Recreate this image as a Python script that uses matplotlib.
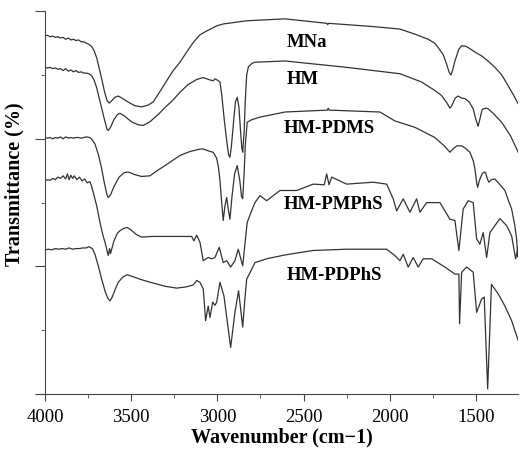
import numpy as np
import matplotlib.pyplot as plt
from matplotlib.ticker import MultipleLocator

plt.rcParams['font.family'] = ['Liberation Serif', 'DejaVu Serif']

# spectra (wavenumber, offset transmittance)
wn_mna = [4000, 3985, 3970, 3955, 3940, 3925, 3910, 3895, 3880, 3865, 3850, 3835,
          3820, 3805, 3790, 3775, 3760, 3745, 3730, 3715, 3700, 3685, 3670, 3655,
          3640, 3628, 3615, 3595, 3575, 3555, 3520, 3480, 3440, 3400, 3372, 3333,
          3294, 3256, 3217, 3178, 3140, 3101, 3062, 3004, 2966, 2830, 2608, 2365,
          2360, 2355, 2100, 1941, 1854, 1777, 1740, 1719, 1690, 1670, 1655, 1645,
          1635, 1622, 1612, 1600, 1583, 1560, 1545, 1500, 1467, 1430, 1390, 1350,
          1313, 1285, 1255]
t_mna = [5.62, 5.62, 5.60, 5.61, 5.59, 5.60, 5.58, 5.59, 5.56, 5.58, 5.55, 5.56,
         5.54, 5.55, 5.52, 5.52, 5.50, 5.48, 5.45, 5.38, 5.27, 5.10, 4.93, 4.74,
         4.60, 4.56, 4.59, 4.65, 4.67, 4.64, 4.58, 4.52, 4.50, 4.53, 4.58, 4.74,
         4.91, 5.07, 5.20, 5.36, 5.51, 5.63, 5.69, 5.77, 5.80, 5.85, 5.88, 5.81,
         5.79, 5.81, 5.76, 5.72, 5.64, 5.56, 5.50, 5.43, 5.32, 5.17, 5.04, 5.00,
         5.08, 5.22, 5.30, 5.40, 5.46, 5.45, 5.43, 5.35, 5.30, 5.22, 5.12, 5.00,
         4.83, 4.70, 4.55]

wn_hm = [4000, 3985, 3970, 3955, 3940, 3925, 3910, 3895, 3880, 3865, 3850, 3835,
         3820, 3805, 3790, 3775, 3760, 3745, 3730, 3715, 3700, 3685, 3671, 3655,
         3640, 3633, 3620, 3600, 3580, 3565, 3540, 3500, 3460, 3430, 3390, 3340,
         3304, 3260, 3217, 3170, 3120, 3082, 3040, 3024, 3014, 3000, 2985, 2975,
         2960, 2945, 2935, 2927, 2918, 2905, 2895, 2885, 2875, 2865, 2858, 2853,
         2845, 2838, 2830, 2820, 2800, 2782, 2608, 2250, 1941, 1815, 1740, 1700,
         1670, 1651, 1640, 1620, 1603, 1585, 1564, 1540, 1516, 1500, 1490, 1487,
         1478, 1465, 1458, 1440, 1429, 1400, 1351, 1300, 1255]
t_hm = [5.12, 5.11, 5.12, 5.10, 5.11, 5.09, 5.10, 5.07, 5.10, 5.06, 5.08, 5.05,
        5.07, 5.04, 5.05, 5.03, 5.03, 5.02, 4.99, 4.92, 4.80, 4.63, 4.48, 4.30,
        4.15, 4.13, 4.18, 4.30, 4.38, 4.40, 4.36, 4.27, 4.22, 4.21, 4.27, 4.39,
        4.49, 4.60, 4.73, 4.85, 4.93, 4.96, 4.92, 4.91, 4.94, 4.92, 4.89, 4.70,
        4.30, 3.95, 3.75, 3.71, 3.90, 4.30, 4.58, 4.65, 4.50, 4.10, 3.85, 3.79,
        4.10, 4.60, 5.00, 5.13, 5.18, 5.20, 5.22, 5.12, 5.02, 4.89, 4.76, 4.68,
        4.57, 4.48, 4.52, 4.64, 4.67, 4.64, 4.63, 4.58, 4.47, 4.30, 4.22, 4.20,
        4.30, 4.45, 4.47, 4.48, 4.47, 4.40, 4.26, 4.05, 3.79]

wn_pdms = [4000, 3985, 3970, 3955, 3940, 3925, 3910, 3895, 3880, 3865, 3850, 3835,
           3820, 3805, 3790, 3775, 3760, 3740, 3725, 3710, 3690, 3671, 3655, 3640,
           3633, 3620, 3600, 3570, 3540, 3517, 3480, 3440, 3391, 3350, 3304, 3260,
           3217, 3160, 3100, 3082, 3040, 3024, 3005, 2995, 2985, 2975, 2966, 2956,
           2946, 2937, 2927, 2915, 2900, 2885, 2870, 2860, 2853, 2845, 2838, 2827,
           2800, 2753, 2608, 2362, 2357, 2352, 2057, 1970, 1854, 1738, 1680, 1651,
           1630, 1610, 1583, 1560, 1535, 1515, 1506, 1495, 1490, 1480, 1464, 1452,
           1444, 1435, 1425, 1410, 1390, 1360, 1332, 1310, 1293, 1275, 1264, 1258]
t_pdms = [4.02, 4.01, 4.02, 4.00, 4.02, 4.01, 4.03, 4.00, 4.03, 4.01, 4.02, 4.01,
          4.02, 4.02, 4.01, 4.02, 4.03, 4.02, 3.98, 3.92, 3.75, 3.53, 3.30, 3.12,
          3.08, 3.12, 3.25, 3.40, 3.47, 3.48, 3.44, 3.41, 3.42, 3.50, 3.58, 3.66,
          3.74, 3.80, 3.84, 3.84, 3.80, 3.79, 3.70, 3.58, 3.35, 3.00, 2.72, 2.95,
          3.08, 2.90, 2.74, 3.10, 3.45, 3.58, 3.35, 3.10, 3.06, 3.45, 3.90, 4.26,
          4.30, 4.34, 4.42, 4.45, 4.48, 4.45, 4.42, 4.28, 4.18, 4.02, 3.88, 3.79,
          3.85, 3.89, 3.89, 3.85, 3.79, 3.65, 3.53, 3.30, 3.24, 3.35, 3.45, 3.48,
          3.47, 3.38, 3.32, 3.36, 3.37, 3.28, 3.19, 3.02, 2.90, 2.65, 2.43, 2.15]

wn_pmphs = [4000, 3985, 3970, 3955, 3940, 3925, 3910, 3895, 3880, 3870, 3860, 3850,
            3840, 3830, 3815, 3800, 3785, 3770, 3755, 3740, 3730, 3720, 3700, 3681,
            3665, 3652, 3640, 3633, 3625, 3620, 3613, 3600, 3580, 3565, 3540, 3523,
            3500, 3470, 3439, 3380, 3304, 3149, 3136, 3120, 3101, 3082, 3053, 3033,
            3014, 2989, 2966, 2946, 2923, 2898, 2879, 2853, 2827, 2800, 2782, 2753,
            2714, 2666, 2637, 2540, 2444, 2380, 2366, 2352, 2337, 2250, 2096, 2018,
            1980, 1960, 1922, 1883, 1844, 1825, 1786, 1709, 1651, 1622, 1599, 1574,
            1545, 1516, 1496, 1477, 1458, 1438, 1419, 1390, 1361, 1322, 1293, 1270,
            1251]
t_pmphs = [3.34, 3.36, 3.35, 3.38, 3.36, 3.40, 3.38, 3.42, 3.37, 3.45, 3.36, 3.43,
           3.38, 3.42, 3.36, 3.40, 3.34, 3.37, 3.31, 3.33, 3.26, 3.16, 2.95, 2.69,
           2.50, 2.38, 2.25, 2.17, 2.28, 2.20, 2.27, 2.40, 2.52, 2.56, 2.60, 2.61,
           2.57, 2.50, 2.46, 2.47, 2.47, 2.47, 2.40, 2.49, 2.38, 2.09, 2.14, 2.12,
           2.14, 2.30, 2.06, 2.09, 1.99, 2.09, 2.27, 2.01, 2.69, 2.88, 3.00, 3.11,
           3.03, 3.13, 3.19, 3.19, 3.29, 3.28, 3.45, 3.28, 3.40, 3.29, 3.32, 3.29,
           3.06, 2.87, 3.06, 2.85, 3.06, 2.85, 3.00, 3.00, 2.74, 2.72, 2.25, 2.90,
           3.03, 3.00, 2.43, 2.35, 2.53, 2.14, 2.53, 2.64, 2.75, 2.64, 2.48, 2.12,
           2.35]

wn_pdphs = [4000, 3980, 3960, 3940, 3920, 3900, 3880, 3860, 3840, 3820, 3800, 3780,
            3760, 3745, 3739, 3725, 3710, 3690, 3671, 3650, 3635, 3623, 3610, 3590,
            3575, 3550, 3523, 3490, 3449, 3400, 3304, 3236, 3180, 3140, 3120, 3101,
            3082, 3068, 3053, 3043, 3027, 3014, 3004, 2985, 2962, 2923, 2898, 2877,
            2853, 2840, 2830, 2800, 2782, 2714, 2608, 2444, 2250, 2018, 1970, 1941,
            1922, 1893, 1864, 1835, 1806, 1757, 1680, 1622, 1599, 1595, 1583, 1554,
            1516, 1496, 1467, 1452, 1432, 1410, 1371, 1332, 1293, 1255]
t_pdphs = [2.26, 2.27, 2.26, 2.28, 2.27, 2.28, 2.27, 2.29, 2.27, 2.28, 2.28, 2.29,
           2.29, 2.31, 2.30, 2.28, 2.19, 2.00, 1.80, 1.60, 1.50, 1.46, 1.52, 1.66,
           1.75, 1.83, 1.87, 1.84, 1.80, 1.76, 1.69, 1.66, 1.68, 1.71, 1.78, 1.75,
           1.65, 1.15, 1.38, 1.20, 1.44, 1.39, 1.44, 1.75, 1.54, 0.73, 1.28, 1.62,
           1.05, 1.50, 1.80, 1.96, 2.06, 2.12, 2.18, 2.25, 2.27, 2.27, 2.17, 2.09,
           2.19, 1.99, 2.14, 1.99, 2.12, 2.12, 1.99, 1.88, 1.88, 1.10, 1.91, 1.99,
           1.91, 1.28, 1.49, 1.52, 0.08, 1.72, 1.57, 1.38, 1.15, 0.84]

labels = ['MNa', 'HM', 'HM-PDMS', 'HM-PMPhS', 'HM-PDPhS']
label_pos = [(2600, 5.53), (2600, 4.95), (2615, 4.18), (2615, 2.98), (2600, 1.88)]

fig = plt.figure(figsize=(5.2, 4.52), dpi=100)
ax = fig.add_axes([0.0865, 0.126, 0.91, 0.847])

series = [(wn_mna, t_mna), (wn_hm, t_hm), (wn_pdms, t_pdms),
          (wn_pmphs, t_pmphs), (wn_pdphs, t_pdphs)]
for wn, t in series:
    ax.plot(wn, t, '-', color='#333333', lw=0.9)

for name, (x, y) in zip(labels, label_pos):
    ax.text(x, y, name, fontsize=13.5, fontweight='bold', ha='left', va='center')

ax.set_xlim(4000, 1255)
ax.set_ylim(0, 6)
ax.xaxis.set_major_locator(MultipleLocator(500))
ax.xaxis.set_minor_locator(MultipleLocator(250))
ax.yaxis.set_major_locator(MultipleLocator(2))
ax.yaxis.set_minor_locator(MultipleLocator(1))
ax.set_yticklabels([])
ax.spines['top'].set_visible(False)
ax.spines['right'].set_visible(False)
for s in ['left', 'bottom']:
    ax.spines[s].set_color('#444444')
ax.tick_params(axis='both', which='both', direction='out', color='#444444')
ax.tick_params(axis='x', which='major', length=5, labelsize=13.5, pad=5)
ax.tick_params(axis='x', which='minor', length=3)
ax.tick_params(axis='y', which='major', length=7)
ax.tick_params(axis='y', which='minor', length=3)

ax.set_xlabel('Wavenumber (cm\u22121)', fontsize=14.5, fontweight='bold', labelpad=1)
ax.set_ylabel('Transmittance (%)', fontsize=14.5, fontweight='bold')
ax.yaxis.set_label_coords(-0.044, 0.55)

fig.savefig('out.png', dpi=100)
